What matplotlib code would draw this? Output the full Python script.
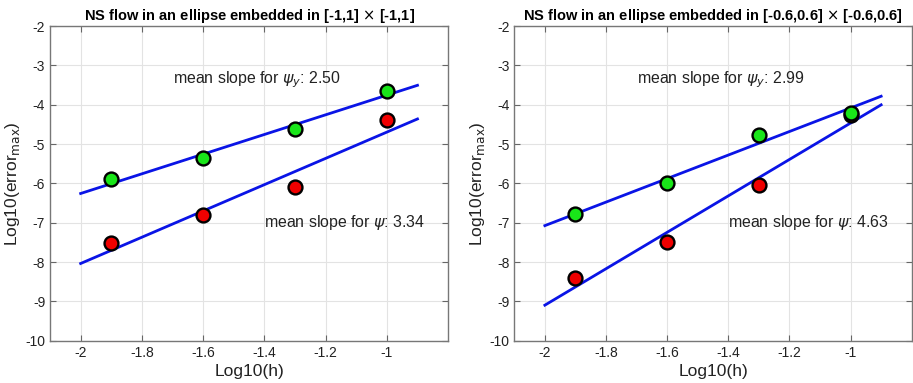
import numpy as np
import matplotlib
matplotlib.use("Agg")
import matplotlib.pyplot as plt

plt.rcParams["font.family"] = ["Liberation Sans", "DejaVu Sans"]
plt.rcParams["mathtext.fontset"] = "dejavusans"

# grid spacing (log10 h) shared by both runs
log_h = [-1.9, -1.6, -1.3, -1.0]

# run 1: ellipse embedded in [-1,1] x [-1,1]
err_psiy_1 = [-5.90, -5.35, -4.63, -3.65]
err_psi_1 = [-7.52, -6.80, -6.08, -4.40]
slope_psiy_1 = 2.50
slope_psi_1 = 3.34

# run 2: ellipse embedded in [-0.6,0.6] x [-0.6,0.6]
err_psiy_2 = [-6.77, -5.98, -4.77, -4.20]
err_psi_2 = [-8.40, -7.50, -6.05, -4.25]
slope_psiy_2 = 2.99
slope_psi_2 = 4.63

titles = [
    r"NS flow in an ellipse embedded in [-1,1] $\times$ [-1,1]",
    r"NS flow in an ellipse embedded in [-0.6,0.6] $\times$ [-0.6,0.6]",
]

fit_x = np.array([-2.0, -0.9])


def fit_line(x, y, slope):
    # line with the reported slope through the centroid of the points
    x = np.asarray(x)
    y = np.asarray(y)
    return y.mean() + slope * (fit_x - x.mean())


def draw_panel(ax, err_psiy, err_psi, s_psiy, s_psi, title):
    ax.plot(fit_x, fit_line(log_h, err_psiy, s_psiy), color="#0a14e6", lw=2.0, zorder=2)
    ax.plot(fit_x, fit_line(log_h, err_psi, s_psi), color="#0a14e6", lw=2.0, zorder=2)
    ax.plot(log_h, err_psi, "o", ms=10, mfc="#f00000", mec="black", mew=1.7, zorder=3)
    ax.plot(log_h, err_psiy, "o", ms=10, mfc="#19e619", mec="black", mew=1.7, zorder=4)

    ax.text(-1.70, -3.37, r"mean slope for $\psi_y$: " + f"{s_psiy:.2f}",
            fontsize=11.4, color="#222222", va="center", ha="left")
    ax.text(-1.40, -7.0, r"mean slope for $\psi$: " + f"{s_psi:.2f}",
            fontsize=11.4, color="#222222", va="center", ha="left")

    ax.set_xlim(-2.1, -0.8)
    ax.set_ylim(-10, -2)
    ax.set_xticks([-2, -1.8, -1.6, -1.4, -1.2, -1])
    ax.set_xticklabels(["-2", "-1.8", "-1.6", "-1.4", "-1.2", "-1"])
    ax.set_yticks(np.arange(-10, -1, 1))
    ax.set_yticklabels([str(v) for v in range(-10, -1)])
    ax.grid(True, color="#e3e3e3", lw=0.8)
    ax.set_axisbelow(True)
    ax.tick_params(direction="in", top=True, right=True, length=4,
                   color="#666666", labelsize=10, labelcolor="#222222")
    for sp in ax.spines.values():
        sp.set_color("#777777")
        sp.set_linewidth(1.0)
    ax.set_xlabel("Log10(h)", fontsize=12.5, color="#222222", labelpad=3)
    ax.set_ylabel(r"Log10(error$_{\rm max}$)", fontsize=12.5, color="#222222", labelpad=2)
    ax.set_title(title, fontsize=10.5, fontweight="bold", pad=4)


fig = plt.figure(figsize=(9.13, 3.83), dpi=100)
ax1 = fig.add_axes([0.0548, 0.1104, 0.436, 0.8217])
ax2 = fig.add_axes([0.5633, 0.1104, 0.4353, 0.8217])

draw_panel(ax1, err_psiy_1, err_psi_1, slope_psiy_1, slope_psi_1, titles[0])
draw_panel(ax2, err_psiy_2, err_psi_2, slope_psiy_2, slope_psi_2, titles[1])

fig.savefig("out.png", dpi=100)
